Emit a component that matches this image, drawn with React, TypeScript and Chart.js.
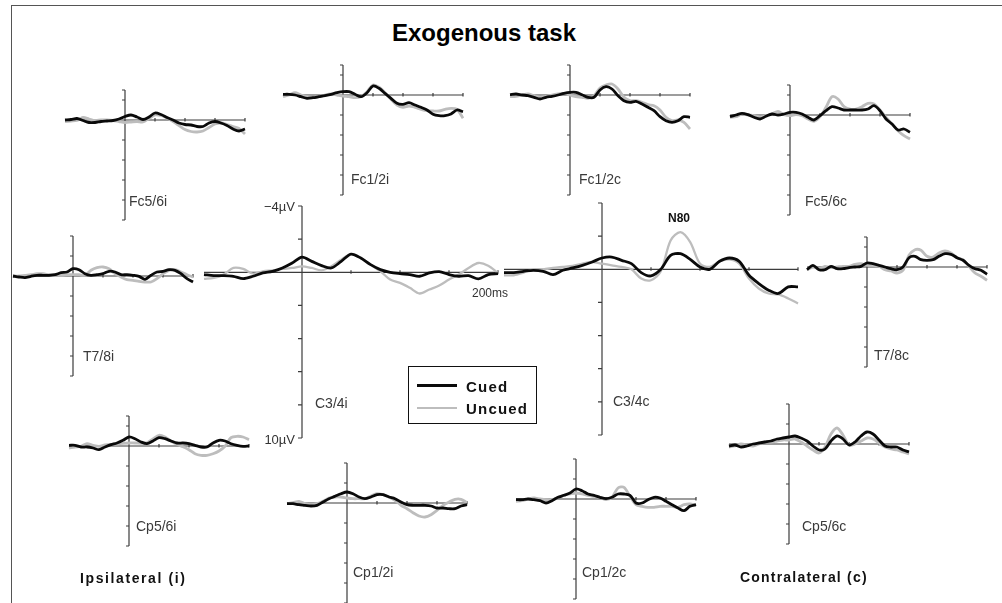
import React, { useEffect, useRef } from 'react';
import { Chart, registerables } from 'chart.js';

Chart.register(...registerables);

const FONT = '"Liberation Sans", Arial, Helvetica, sans-serif';

// time points (ms)
const TIMES = [-100, -90, -80, -70, -60, -50, -40, -30, -20, -10, 0, 10, 20, 30, 40, 50, 60, 70, 80, 90, 100, 110, 120, 130, 140, 150, 160, 170, 180, 190, 200];

// amplitudes in µV (negative up)
const fc56iCued = [0, -0.05, -0.15, 0.05, 0.25, 0.25, 0.15, 0.1, 0.05, -0.1, -0.35, -0.5, -0.3, -0.05, -0.3, -0.7, -0.55, -0.25, 0, 0.3, 0.45, 0.5, 0.65, 0.65, 0.3, 0.15, 0.3, 0.55, 0.9, 1.1, 0.9];
const fc56iUncued = [0.15, 0.1, 0.05, -0.25, -0.1, 0.05, 0, 0, 0.05, 0.15, 0.25, 0.2, 0.15, 0.2, -0.15, -0.5, -0.45, -0.2, 0.15, 0.55, 0.95, 1.15, 1.2, 1.1, 0.75, 0.4, 0.3, 0.45, 0.65, 0.85, 1.4];

const fc12iCued = [-0.07, -0.07, 0, 0.17, 0.33, 0.27, 0.17, 0.07, -0.07, -0.23, -0.33, -0.33, -0.07, 0.17, -0.23, -0.9, -0.67, -0.17, 0.33, 0.83, 0.93, 0.77, 1.0, 1.23, 1.5, 1.93, 2.07, 2.07, 1.9, 1.5, 1.67];
const fc12iUncued = [0.17, 0, -0.23, 0, 0.17, 0.23, 0.17, 0, -0.1, 0, 0.1, 0.17, 0.27, 0.17, -0.33, -1.0, -0.77, -0.23, 0.43, 1.0, 1.23, 1.1, 1.23, 1.43, 1.57, 1.6, 1.6, 1.43, 1.33, 1.43, 2.33];

const fc12cCued = [-0.03, -0.1, 0, 0.07, 0.23, 0.4, 0.23, 0.13, 0, -0.17, -0.27, -0.27, -0.03, 0.23, 0.23, -0.5, -0.83, -0.6, 0.07, 0.57, 0.73, 0.63, 0.9, 1.23, 1.57, 2.17, 2.57, 2.73, 2.57, 2.17, 2.23];
const fc12cUncued = [0.17, 0.13, 0, -0.1, 0.07, 0.23, 0.13, 0, -0.1, -0.17, 0, 0.17, 0.23, 0.33, 0.07, -0.7, -1.0, -1.1, -0.6, 0.23, 0.57, 0.57, 0.73, 0.97, 1.07, 1.5, 2.23, 2.57, 2.5, 2.73, 3.4];

const fc56cCued = [0.17, 0, -0.17, -0.03, 0.23, 0.4, 0.13, -0.1, 0, -0.1, -0.27, -0.27, -0.1, 0.23, 0.5, 0.07, -0.43, -0.83, -0.7, -0.5, -0.5, -0.5, -0.5, -0.6, -0.93, -0.43, 0.4, 0.9, 1.5, 1.4, 1.73];
const fc56cUncued = [0.23, 0.17, -0.1, 0, 0.07, 0.23, 0.07, -0.1, -0.37, -0.03, 0.07, -0.03, 0.07, 0.4, 0.63, 0.17, -0.77, -1.83, -1.6, -0.83, -0.6, -0.6, -0.83, -1.17, -1.1, -0.5, 0.23, 0.9, 1.57, 2.07, 2.4];

const t78iCued = [0, 0.1, 0.17, 0.03, -0.07, -0.07, -0.07, -0.13, -0.33, -0.4, -0.73, -0.63, -0.23, -0.07, -0.13, -0.23, -0.47, -0.4, -0.13, -0.13, -0.07, 0.03, 0.33, -0.07, -0.4, -0.47, -0.63, -0.57, -0.23, 0.27, 0.6];
const t78iUncued = [0, 0, -0.07, -0.13, -0.23, -0.23, -0.13, -0.07, -0.07, -0.13, -0.13, -0.13, -0.07, -0.57, -0.83, -0.9, -0.73, -0.23, 0.1, 0.37, 0.43, 0.53, 0.6, 0.6, 0.27, -0.23, -0.57, -0.63, -0.4, -0.13, 0.1];

const c34iCued = [0.14, 0.2, 0.2, 0.24, 0.38, 0.24, 0.04, -0.06, -0.26, -0.56, -0.92, -0.66, -0.4, -0.26, -0.66, -1.1, -0.86, -0.46, -0.16, 0, 0.08, 0.14, 0.24, 0.04, -0.04, 0.14, 0.24, 0.2, 0.4, 0.14, 0.08];
const c34iUncued = [0.4, 0.34, 0.14, -0.26, -0.2, 0.08, -0.06, -0.12, -0.2, -0.26, -0.36, -0.26, -0.12, -0.36, -0.76, -1.1, -0.86, -0.46, -0.06, 0.44, 0.64, 0.94, 1.28, 1.04, 0.8, 0.44, 0.14, -0.26, -0.56, -0.4, 0.04];

const c34cCued = [0.2, 0.2, 0.12, 0.06, 0.12, 0.32, 0.06, -0.08, -0.24, -0.44, -0.68, -0.74, -0.54, -0.34, 0.2, 0.4, 0, -0.84, -0.94, -0.6, -0.14, 0, -0.48, -0.68, -0.48, 0.36, 0.86, 1.26, 1.46, 1.06, 1.06];
const c34cUncued = [0.36, 0.36, 0.2, 0, 0, -0.08, -0.14, -0.2, -0.34, -0.44, -0.34, -0.24, -0.14, 0, 0.56, 0.66, 0.12, -1.74, -2.24, -1.64, -0.34, -0.14, -0.48, -0.6, -0.34, 0.56, 1.16, 1.46, 1.52, 1.76, 2.06];

const t78cCued = [0.27, -0.17, 0.27, 0.27, -0.07, 0.17, 0.17, 0.07, 0, -0.07, -0.4, -0.33, -0.17, 0, 0.17, 0.27, 0, -0.93, -1.07, -0.73, -0.67, -0.73, -1.07, -1.33, -1.27, -0.93, -0.67, -0.17, 0.17, 0.33, 0.73];
const t78cUncued = [0.27, 0, 0.17, -0.07, 0.07, 0, -0.07, -0.07, -0.27, -0.33, -0.17, -0.17, -0.07, 0.27, 0.4, 0.6, 0.33, -1.17, -1.73, -1.67, -1.07, -1.0, -1.4, -1.6, -1.4, -0.93, -0.73, -0.07, 0.6, 0.93, 1.33];

const cp56iCued = [-0.07, -0.07, 0.1, 0.1, 0.2, 0.37, 0.1, -0.13, -0.3, -0.57, -0.9, -0.73, -0.4, -0.23, -0.5, -0.83, -0.73, -0.5, -0.3, -0.3, -0.23, -0.07, 0.1, 0.1, -0.3, -0.57, -0.5, -0.23, -0.07, 0.03, 0];
const cp56iUncued = [0.2, 0.1, 0.03, -0.23, -0.07, 0.03, -0.1, -0.17, -0.2, -0.27, -0.3, -0.3, -0.27, -0.33, -0.7, -1.07, -0.9, -0.5, -0.17, 0.07, 0.37, 0.77, 0.93, 0.93, 0.77, 0.5, 0.03, -0.83, -0.97, -0.9, -0.63];

const cp12iCued = [0.07, 0.07, 0.17, 0.23, 0.3, 0.23, -0.1, -0.43, -0.67, -0.93, -1.1, -0.93, -0.6, -0.43, -0.6, -0.83, -0.83, -0.6, -0.43, -0.1, 0.17, 0.23, 0.23, 0.23, 0.3, 0.5, 0.5, 0.57, 0.57, 0.3, 0.17];
const cp12iUncued = [0.07, -0.03, -0.17, 0.07, 0.17, 0.07, -0.17, -0.5, -0.6, -0.6, -0.5, -0.43, -0.43, -0.43, -0.7, -0.93, -0.83, -0.6, -0.27, 0.23, 0.57, 0.97, 1.3, 1.4, 1.17, 0.73, 0.23, -0.1, -0.37, -0.37, -0.03];

const cp12cCued = [0.07, 0.07, 0, 0.07, 0.17, 0.4, 0.17, -0.17, -0.37, -0.6, -1.0, -0.83, -0.5, -0.37, -0.17, -0.03, -0.17, -0.5, -0.5, -0.37, 0.4, 0.4, 0.07, -0.17, -0.1, 0.23, 0.57, 0.9, 1.17, 0.73, 0.57];
const cp12cUncued = [0.23, 0.17, 0, -0.1, 0, 0.07, 0.07, -0.17, -0.37, -0.5, -0.6, -0.5, -0.37, -0.27, -0.17, 0.07, -0.17, -1.1, -1.17, -0.27, 0.57, 0.73, 0.83, 0.83, 0.73, 0.73, 0.73, 0.83, 0.57, 0.5, 0.63];

const cp56cCued = [0.2, 0.1, 0.3, 0.2, 0, -0.1, -0.2, -0.3, -0.5, -0.6, -0.7, -0.8, -0.6, -0.3, 0.2, 0.6, 0.5, -0.3, -0.8, -0.5, 0.1, -0.2, -0.8, -1.2, -1.0, -0.4, 0.2, 0.3, 0.3, 0.6, 0.8];
const cp56cUncued = [0.3, 0.2, 0, 0.1, 0.2, 0, -0.2, -0.2, -0.3, -0.4, -0.4, -0.5, -0.2, 0.2, 0.6, 0.9, 0.3, -1.0, -1.6, -0.9, 0.1, 0, -0.3, -0.6, -0.5, -0.1, 0.3, 0.5, 0.6, 0.8, 1.0];

const Y_TICKS = [-4, -2, 0, 2, 4, 6, 8, 10];
const X_TICKS = [50, 100, 150, 200];
const X_MIN = -100;
const X_MAX = 200;
const Y_MAX = 10;

const SMALL = { ms: 0.6, uv: 10, cuedW: 2.8, uncuedW: 2.8, tick: 3 };
const BIG = { ms: 0.98, uv: 16.6, cuedW: 2.8, uncuedW: 2.3, tick: 4 };
const PAD = 6;

type PanelCfg = {
  name: string;
  cued: number[];
  uncued: number[];
  vx: number;
  y0: number;
  yMin: number;
  big?: boolean;
  lx: number;
  ly: number;
};

const PANELS: PanelCfg[] = [
  { name: 'Fc5/6i', cued: fc56iCued, uncued: fc56iUncued, vx: 125, y0: 119.5, yMin: -3, lx: 129, ly: 201 },
  { name: 'Fc1/2i', cued: fc12iCued, uncued: fc12iUncued, vx: 343, y0: 95, yMin: -3, lx: 351, ly: 179 },
  { name: 'Fc1/2c', cued: fc12cCued, uncued: fc12cUncued, vx: 569.5, y0: 94.5, yMin: -3, lx: 579, ly: 179 },
  { name: 'Fc5/6c', cued: fc56cCued, uncued: fc56cUncued, vx: 789.5, y0: 114.5, yMin: -3, lx: 805, ly: 201 },
  { name: 'T7/8i', cued: t78iCued, uncued: t78iUncued, vx: 72.7, y0: 275.5, yMin: -4, lx: 83, ly: 356 },
  { name: 'C3/4i', cued: c34iCued, uncued: c34iUncued, vx: 302.3, y0: 272.7, yMin: -4, big: true, lx: 315, ly: 403 },
  { name: 'C3/4c', cued: c34cCued, uncued: c34cUncued, vx: 602.3, y0: 269, yMin: -4, big: true, lx: 613, ly: 401 },
  { name: 'T7/8c', cued: t78cCued, uncued: t78cUncued, vx: 866.7, y0: 266.7, yMin: -3, lx: 874, ly: 355 },
  { name: 'Cp5/6i', cued: cp56iCued, uncued: cp56iUncued, vx: 129.3, y0: 445.7, yMin: -3, lx: 136, ly: 526 },
  { name: 'Cp1/2i', cued: cp12iCued, uncued: cp12iUncued, vx: 347.3, y0: 502.7, yMin: -4, lx: 353, ly: 572 },
  { name: 'Cp1/2c', cued: cp12cCued, uncued: cp12cUncued, vx: 576, y0: 499.3, yMin: -4, lx: 582, ly: 572 },
  { name: 'Cp5/6c', cued: cp56cCued, uncued: cp56cUncued, vx: 789.3, y0: 444, yMin: -4, lx: 802, ly: 526 },
];

const erpAxes = {
  id: 'erpAxes',
  beforeDatasetsDraw(chart: any, _args: any, opts: any) {
    const { ctx } = chart;
    const x = chart.scales.x;
    const y = chart.scales.y;
    const yMin = y.min;
    const tick = opts.tick || 3;
    const px0 = x.getPixelForValue(0);
    const py0 = y.getPixelForValue(0);
    ctx.save();
    ctx.strokeStyle = '#3c3c3c';
    ctx.lineWidth = 1.2;
    ctx.beginPath();
    ctx.moveTo(x.getPixelForValue(X_MIN), py0);
    ctx.lineTo(x.getPixelForValue(X_MAX), py0);
    ctx.moveTo(px0, y.getPixelForValue(yMin));
    ctx.lineTo(px0, y.getPixelForValue(Y_MAX));
    const yt = Y_TICKS.filter((v) => v >= yMin);
    if (!yt.includes(yMin)) yt.push(yMin);
    for (const v of yt) {
      const py = y.getPixelForValue(v);
      ctx.moveTo(px0 - tick, py);
      ctx.lineTo(px0, py);
    }
    for (const t of X_TICKS) {
      const px = x.getPixelForValue(t);
      ctx.moveTo(px, py0 - 2);
      ctx.lineTo(px, py0 + 1.5);
    }
    ctx.stroke();
    ctx.restore();
  },
};

function Panel({ cfg }: { cfg: PanelCfg }) {
  const ref = useRef<HTMLCanvasElement>(null);
  const s = cfg.big ? BIG : SMALL;
  const w = Math.round((X_MAX - X_MIN) * s.ms + 2 * PAD);
  const h = Math.round((Y_MAX - cfg.yMin) * s.uv + 2 * PAD);
  const left = cfg.vx + X_MIN * s.ms - PAD;
  const top = cfg.y0 + cfg.yMin * s.uv - PAD;

  useEffect(() => {
    if (!ref.current) return;
    const chart = new Chart(ref.current, {
      type: 'line',
      data: {
        datasets: [
          {
            label: 'Cued',
            data: TIMES.map((t, i) => ({ x: t, y: cfg.cued[i] })),
            borderColor: '#0a0a0a',
            borderWidth: s.cuedW,
            pointRadius: 0,
            tension: 0.3,
            fill: false,
            clip: 8,
          },
          {
            label: 'Uncued',
            data: TIMES.map((t, i) => ({ x: t, y: cfg.uncued[i] })),
            borderColor: '#bdbdbd',
            borderWidth: s.uncuedW,
            pointRadius: 0,
            tension: 0.3,
            fill: false,
            clip: 8,
          },
        ],
      },
      options: {
        responsive: false,
        animation: false,
        devicePixelRatio: 1,
        layout: { padding: PAD },
        scales: {
          x: { type: 'linear', min: X_MIN, max: X_MAX, display: false },
          y: { type: 'linear', min: cfg.yMin, max: Y_MAX, reverse: true, display: false },
        },
        plugins: {
          legend: { display: false },
          tooltip: { enabled: false },
          erpAxes: { tick: s.tick },
        } as any,
      },
      plugins: [erpAxes],
    });
    return () => chart.destroy();
  }, []);

  return (
    <>
      <canvas
        ref={ref}
        width={w}
        height={h}
        style={{ position: 'absolute', left, top, width: w, height: h }}
      />
      <div
        style={{
          position: 'absolute',
          left: cfg.lx,
          top: cfg.ly,
          transform: 'translateY(-50%)',
          font: `14px ${FONT}`,
          color: '#3a3a3a',
          whiteSpace: 'nowrap',
          lineHeight: 1,
        }}
      >
        {cfg.name}
      </div>
    </>
  );
}

const txt = (extra: React.CSSProperties): React.CSSProperties => ({
  position: 'absolute',
  whiteSpace: 'nowrap',
  lineHeight: 1,
  fontFamily: FONT,
  ...extra,
});

export default function App() {
  return (
    <div
      style={{
        position: 'absolute',
        left: 0,
        top: 0,
        width: 1002,
        height: 603,
        background: '#fff',
        overflow: 'hidden',
      }}
    >
      <div
        style={{
          position: 'absolute',
          left: 11,
          top: 5,
          width: 1100,
          height: 700,
          borderLeft: '1.5px solid #555',
          borderTop: '1.5px solid #555',
        }}
      />
      <div style={txt({ left: 484, top: 33, transform: 'translate(-50%,-50%)', fontSize: 24, fontWeight: 'bold', color: '#000' })}>
        Exogenous task
      </div>
      {PANELS.map((p) => (
        <Panel key={p.name} cfg={p} />
      ))}
      <div style={txt({ right: 1002 - 295, top: 206, transform: 'translateY(-50%)', fontSize: 13, color: '#333' })}>−4µV</div>
      <div style={txt({ right: 1002 - 295, top: 439, transform: 'translateY(-50%)', fontSize: 13, color: '#333' })}>10µV</div>
      <div style={txt({ left: 472, top: 293, transform: 'translateY(-50%)', fontSize: 12, color: '#333' })}>200ms</div>
      <div style={txt({ left: 679, top: 218, transform: 'translate(-50%,-50%)', fontSize: 12, fontWeight: 'bold', color: '#111' })}>N80</div>

      <div
        style={{
          position: 'absolute',
          left: 408,
          top: 366,
          width: 129,
          height: 58,
          border: '1.3px solid #111',
          boxSizing: 'border-box',
        }}
      >
        <div style={{ position: 'absolute', left: 8, top: 17, width: 40, height: 3, background: '#0a0a0a' }} />
        <div style={{ position: 'absolute', left: 8, top: 40, width: 40, height: 2, background: '#bdbdbd' }} />
        <div style={txt({ left: 57, top: 18.5, transform: 'translateY(-50%)', fontSize: 15, fontWeight: 'bold', letterSpacing: 1.2, color: '#111' })}>Cued</div>
        <div style={txt({ left: 57, top: 41, transform: 'translateY(-50%)', fontSize: 15, fontWeight: 'bold', letterSpacing: 1.2, color: '#111' })}>Uncued</div>
      </div>

      <div style={txt({ left: 80, top: 578, transform: 'translateY(-50%)', fontSize: 14, fontWeight: 'bold', letterSpacing: 1.6, color: '#111' })}>
        Ipsilateral (i)
      </div>
      <div style={txt({ left: 740, top: 577, transform: 'translateY(-50%)', fontSize: 14, fontWeight: 'bold', letterSpacing: 1.2, color: '#111' })}>
        Contralateral (c)
      </div>
    </div>
  );
}
